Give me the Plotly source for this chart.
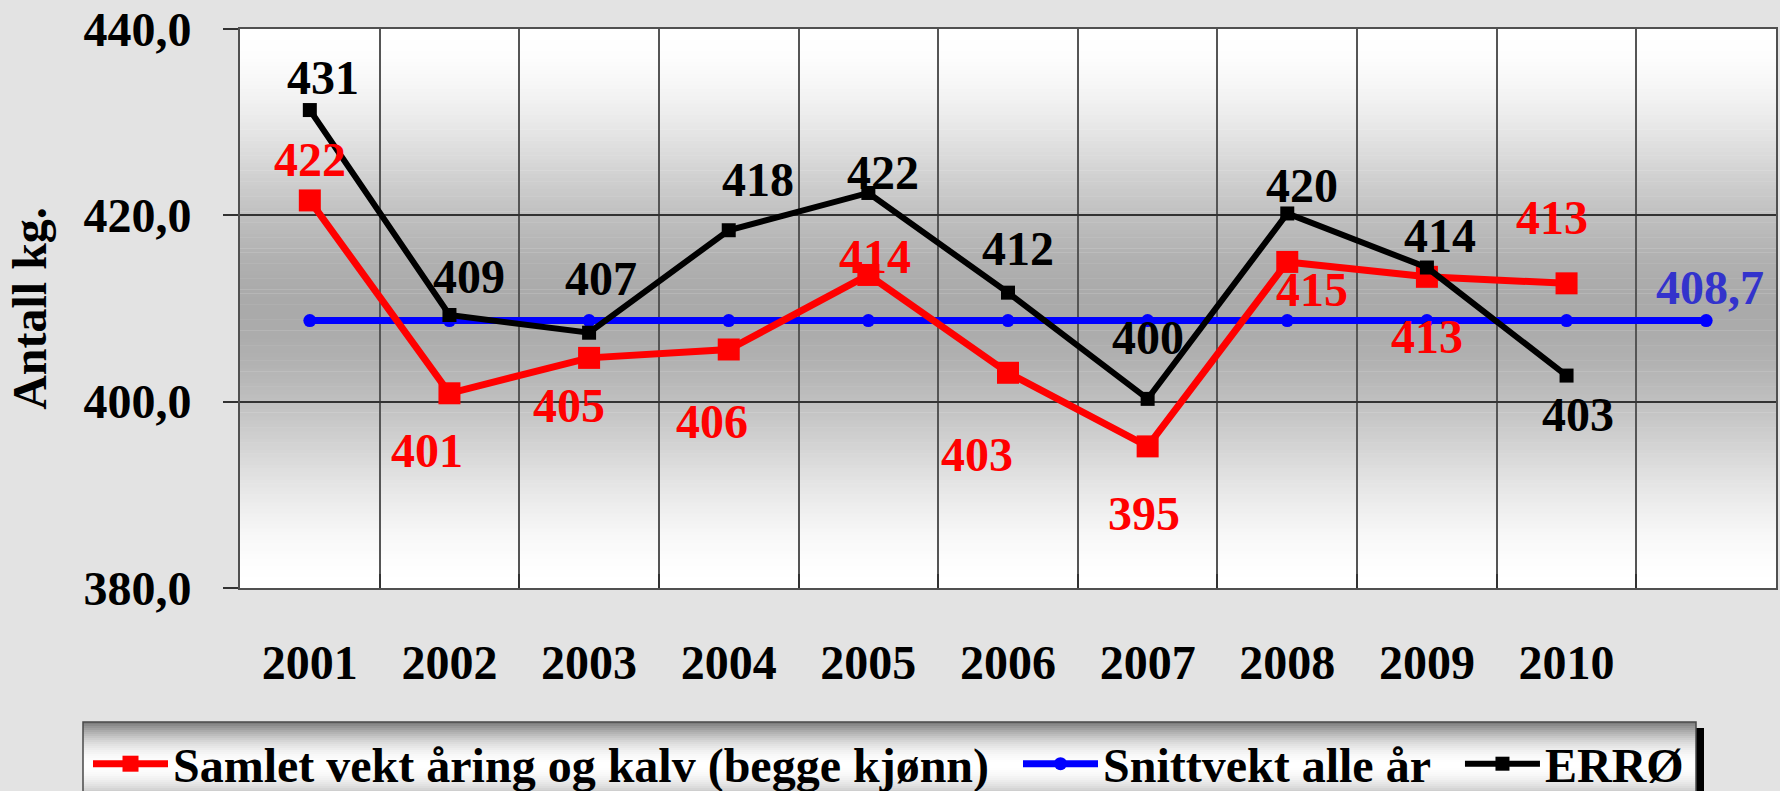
import plotly.graph_objects as go

# ---------------- data ----------------
years = ["2001", "2002", "2003", "2004", "2005", "2006", "2007", "2008", "2009", "2010", ""]
samlet = [421.6, 400.9, 404.7, 405.6, 413.6, 403.1, 395.2, 415.0, 413.4, 412.7]
snitt = [408.7, 408.7, 408.7, 408.7, 408.7, 408.7, 408.7, 408.7, 408.7, 408.7, 408.7]
erro = [431.3, 409.3, 407.4, 418.4, 422.4, 411.7, 400.3, 420.2, 414.4, 402.8]
y_ticks = [380, 400, 420, 440]

name_samlet = "Samlet vekt åring og kalv (begge kjønn)"
name_snitt = "Snittvekt alle år"
name_erro = "ERRØ"

# ---------------- styling / positions (not data) ----------------
W, H = 1780, 791
L, R, T, B = 240, 4, 29, 203
FONT = "Liberation Serif, Times New Roman, serif"
FS = 48
GAP = "\u00a0\u00a0"  # extra spacing after legend entries

# label offsets (dx, dy) in screen px, dy positive = downwards
red_off = [(0, -41), (-22, 57), (-20, 48), (-17, 72), (7, -18), (-31, 82),
           (-4, 67), (25, 28), (0, 60), (-15, -66)]
blk_off = [(13, -33), (20, -39), (12, -54), (29, -51), (15, -20), (10, -44),
           (0, -61), (15, -28), (13, -32), (11, 39)]
blue_off = (4, -33)


def px_x(p):
    return (p - L) / (W - L - R)


def px_y(p):
    return (H - B - p) / (H - B - T)


x_all = list(range(len(years)))

fig = go.Figure()

fig.add_trace(go.Scatter(
    x=x_all[:len(snitt)], y=snitt, name=name_snitt + GAP, mode="lines+markers",
    line=dict(color="#0000ff", width=7),
    marker=dict(symbol="circle", size=13, color="#0000ff"),
    legendrank=2))
fig.add_trace(go.Scatter(
    x=x_all[:len(samlet)], y=samlet, name=name_samlet + GAP, mode="lines+markers",
    line=dict(color="#ff0000", width=7),
    marker=dict(symbol="square", size=22, color="#ff0000"),
    legendrank=1))
fig.add_trace(go.Scatter(
    x=x_all[:len(erro)], y=erro, name=name_erro, mode="lines+markers",
    line=dict(color="#000000", width=6),
    marker=dict(symbol="square", size=14, color="#000000"),
    legendrank=3))

annotations = []
for i, v in enumerate(samlet):
    dx, dy = red_off[i]
    annotations.append(dict(x=x_all[i], y=v, xref="x", yref="y", text=f"{v:.0f}",
                            showarrow=False, xshift=dx, yshift=-dy,
                            font=dict(family=FONT, size=FS, color="#ff0000", weight="bold")))
for i, v in enumerate(erro):
    dx, dy = blk_off[i]
    annotations.append(dict(x=x_all[i], y=v, xref="x", yref="y", text=f"{v:.0f}",
                            showarrow=False, xshift=dx, yshift=-dy,
                            font=dict(family=FONT, size=FS, color="#000000", weight="bold")))
last = len(snitt) - 1
annotations.append(dict(x=x_all[last], y=snitt[last], xref="x", yref="y",
                        text=f"{snitt[last]:.1f}".replace(".", ","),
                        showarrow=False, xshift=blue_off[0], yshift=-blue_off[1],
                        font=dict(family=FONT, size=FS, color="#3333cc", weight="bold")))

# ---------------- background gradients via shapes ----------------
shapes = []
ymin, ymax = min(y_ticks), max(y_ticks)
centre = (ymin + ymax) / 2.0
half = (ymax - ymin) / 2.0
step = 0.4
n = int(round((ymax - ymin) / step))
for k in range(n):
    a = ymin + k * step
    b = a + step
    d = abs((a + b) / 2 - centre) / half
    f = 3 * d * d - 2 * d * d * d
    g = int(round(170 + 85 * f))
    col = f"rgb({g},{g},{g})"
    shapes.append(dict(type="rect", xref="x domain", yref="y", x0=0, x1=1, y0=a, y1=b + 0.05,
                       fillcolor=col, line=dict(width=0), layer="below"))

# legend box gradient
lg_left, lg_right, lg_top, lg_bot = 83, 1696, 722, 808
lg_c = 765
lg_h = 43
for yy in range(lg_top, lg_bot, 2):
    d = min(1.0, abs(yy + 1 - lg_c) / lg_h)
    g = int(round(255 - 135 * d * d))
    shapes.append(dict(type="rect", xref="paper", yref="paper",
                       x0=px_x(lg_left), x1=px_x(lg_right), y0=px_y(yy + 2.3), y1=px_y(yy),
                       fillcolor=f"rgb({g},{g},{g})", line=dict(width=0), layer="above"))
# shadow and border
shapes.append(dict(type="rect", xref="paper", yref="paper",
                   x0=px_x(lg_right), x1=px_x(lg_right + 8), y0=px_y(lg_bot), y1=px_y(lg_top + 6),
                   fillcolor="#000000", line=dict(width=0), layer="above"))
shapes.append(dict(type="rect", xref="paper", yref="paper",
                   x0=px_x(lg_left), x1=px_x(lg_right), y0=px_y(lg_bot), y1=px_y(lg_top),
                   fillcolor="rgba(0,0,0,0)", line=dict(color="#4a4a4a", width=1.5), layer="above"))

fig.update_layout(
    width=W, height=H,
    margin=dict(l=L, r=R, t=T, b=B, pad=0, autoexpand=False),
    paper_bgcolor="#e3e3e3",
    plot_bgcolor="#ffffff",
    separators=", ",
    font=dict(family=FONT, size=FS, color="#000000", weight="bold"),
    showlegend=True,
    legend=dict(orientation="h", x=px_x(88), xanchor="left", y=px_y(764), yanchor="middle",
                bgcolor="rgba(0,0,0,0)", borderwidth=0, itemwidth=75,
                font=dict(family=FONT, size=FS, color="#000000", weight="bold"),
                traceorder="normal", itemclick=False),
    shapes=shapes,
    annotations=annotations,
)

fig.update_xaxes(
    range=[-0.5, len(years) - 0.5],
    tickmode="array", tickvals=x_all[:len(samlet)], ticktext=years[:len(samlet)],
    ticks="", showgrid=False, zeroline=False,
    tickfont=dict(family=FONT, size=FS, color="#000000", weight="bold"),
    ticklabelstandoff=31,
    showline=True, linecolor="#505050", linewidth=2, mirror=True,
    minor=dict(tickvals=[i + 0.5 for i in x_all[:-1]], showgrid=True, gridcolor="#555555",
               gridwidth=1.5, ticks="inside", ticklen=14, tickcolor="#333333", tickwidth=1.5),
)
fig.update_yaxes(
    range=[ymin, ymax],
    tickmode="array", tickvals=y_ticks, tickformat=".1f",
    ticks="outside", ticklen=15, tickcolor="#333333", tickwidth=1.5,
    tickfont=dict(family=FONT, size=FS, color="#000000", weight="bold"),
    ticklabelstandoff=22,
    showgrid=True, gridcolor="#333333", gridwidth=1.5, zeroline=False,
    showline=True, linecolor="#505050", linewidth=2, mirror=True,
    title=dict(text="Antall kg.", standoff=22,
               font=dict(family=FONT, size=FS, color="#000000", weight="bold")),
)

fig.write_html("out.html", config={"displayModeBar": False},
               post_script="document.body.style.margin='0';document.body.style.overflow='hidden';")
